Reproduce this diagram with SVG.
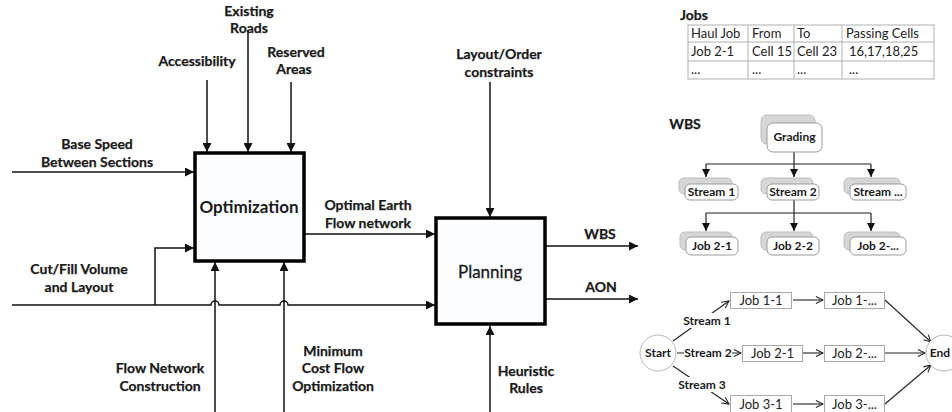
<svg xmlns="http://www.w3.org/2000/svg" width="952" height="412" viewBox="0 0 952 412">
  <style>
    .lbl { font-family: Lato, "Liberation Sans", sans-serif; font-weight: bold; font-size: 14px; fill: #1a1a1a; stroke: #1a1a1a; stroke-width: 0.25; text-anchor: middle; }
    .big { font-family: Lato, "Liberation Sans", sans-serif; font-size: 17px; fill: #1a1a1a; text-anchor: middle; }
    .reg { font-family: Lato, "Liberation Sans", sans-serif; font-size: 13px; fill: #222; }
    .sm  { font-family: Lato, "Liberation Sans", sans-serif; font-weight: bold; font-size: 12px; fill: #1a1a1a; text-anchor: middle; }
    .ln  { fill: none; stroke: #111; stroke-width: 1.5; }
    .box { fill: #fbfdff; stroke: #000; stroke-width: 3.5; }
    .tbl { fill: none; stroke: #b0b0b0; stroke-width: 1; }
    .back { fill: #d6d6d6; stroke: #bdbdbd; stroke-width: 1; }
    .front { fill: #fff; stroke: #9a9a9a; stroke-width: 1; }
    .wl { fill: none; stroke: #222; stroke-width: 1.2; }
    .job { fill: #fff; stroke: #a8a8a8; stroke-width: 1; }
    .al { fill: none; stroke: #222; stroke-width: 1.1; }
    .circ { fill: #fff; stroke: #b8b8b8; stroke-width: 1; }
  </style>
  <defs>
    <marker id="tri" viewBox="0 0 10 10" refX="10" refY="5" markerWidth="6" markerHeight="6" markerUnits="strokeWidth" orient="auto">
      <path d="M0,0 L10,5 L0,10 z" fill="#111"/>
    </marker>
    <marker id="tri-s" viewBox="0 0 10 10" refX="10" refY="5" markerWidth="7" markerHeight="7" markerUnits="strokeWidth" orient="auto">
      <path d="M0,0 L10,5 L0,10 z" fill="#111"/>
    </marker>
    <marker id="vee" viewBox="0 0 10 10" refX="9" refY="5" markerWidth="8" markerHeight="8" markerUnits="strokeWidth" orient="auto">
      <path d="M1,1 L9,5 L1,9" fill="none" stroke="#222" stroke-width="1.2"/>
    </marker>
  </defs>

  <!-- IDEF0 connectors -->
  <g id="connectors">
    <line class="ln" x1="207" y1="80" x2="207" y2="152" marker-end="url(#tri)"/>
    <line class="ln" x1="248" y1="30" x2="248" y2="152" marker-end="url(#tri)"/>
    <line class="ln" x1="291" y1="82" x2="291" y2="152" marker-end="url(#tri)"/>
    <line class="ln" x1="12" y1="172" x2="194" y2="172" marker-end="url(#tri)"/>
    <!-- cut/fill main line hops over the two mechanism arrows -->
    <path class="ln" d="M12,305 H211 A4,4 0 0 1 219,305 H280 A4,4 0 0 1 288,305 H435" marker-end="url(#tri)"/>
    <path class="ln" d="M155,305 V248 H194" marker-end="url(#tri)"/>
    <line class="ln" x1="215" y1="412" x2="215" y2="262" marker-end="url(#tri)"/>
    <line class="ln" x1="284" y1="412" x2="284" y2="262" marker-end="url(#tri)"/>
    <line class="ln" x1="305" y1="234" x2="435" y2="234" marker-end="url(#tri)"/>
    <line class="ln" x1="490" y1="82" x2="490" y2="217" marker-end="url(#tri)"/>
    <line class="ln" x1="490" y1="412" x2="490" y2="326" marker-end="url(#tri)"/>
    <line class="ln" x1="546" y1="246" x2="638" y2="246" marker-end="url(#tri)"/>
    <line class="ln" x1="546" y1="299" x2="638" y2="299" marker-end="url(#tri)"/>
  </g>

  <!-- input / control / mechanism labels -->
  <g id="labels">
    <text class="lbl" x="249" y="16">Existing</text>
    <text class="lbl" x="249" y="33">Roads</text>
    <text class="lbl" x="197" y="66">Accessibility</text>
    <text class="lbl" x="296" y="57">Reserved</text>
    <text class="lbl" x="294" y="74">Areas</text>
    <text class="lbl" x="97" y="149">Base Speed</text>
    <text class="lbl" x="97" y="167">Between Sections</text>
    <text class="lbl" x="79" y="274">Cut/Fill Volume</text>
    <text class="lbl" x="79" y="292">and Layout</text>
    <text class="lbl" x="160" y="373">Flow Network</text>
    <text class="lbl" x="160" y="391">Construction</text>
    <text class="lbl" x="333" y="356">Minimum</text>
    <text class="lbl" x="333" y="373">Cost Flow</text>
    <text class="lbl" x="333" y="391">Optimization</text>
    <text class="lbl" x="368" y="210">Optimal Earth</text>
    <text class="lbl" x="368" y="228">Flow network</text>
    <text class="lbl" x="499" y="59">Layout/Order</text>
    <text class="lbl" x="499" y="77">constraints</text>
    <text class="lbl" x="526" y="376">Heuristic</text>
    <text class="lbl" x="526" y="393">Rules</text>
    <text class="lbl" x="600" y="239">WBS</text>
    <text class="lbl" x="601" y="292">AON</text>
  </g>

  <g id="optimization">
    <rect class="box" x="195" y="153" width="109" height="108"/>
    <text class="big" x="249" y="213" font-weight="bold">Optimization</text>
  </g>

  <g id="planning">
    <rect class="box" x="436" y="218" width="109" height="106"/>
    <text class="big" x="490" y="278" stroke="#1a1a1a" stroke-width="0.3">Planning</text>
  </g>

  <!-- haul job table -->
  <g id="jobs-table">
    <text class="lbl" x="680" y="20" style="text-anchor:start">Jobs</text>
    <rect class="tbl" x="688" y="25" width="246" height="54"/>
    <line class="tbl" x1="688" y1="42" x2="934" y2="42"/>
    <line class="tbl" x1="688" y1="61" x2="934" y2="61"/>
    <line class="tbl" x1="748" y1="25" x2="748" y2="79"/>
    <line class="tbl" x1="794" y1="25" x2="794" y2="79"/>
    <line class="tbl" x1="842" y1="25" x2="842" y2="79"/>
    <text class="reg" x="691" y="38">Haul Job</text>
    <text class="reg" x="752" y="38">From</text>
    <text class="reg" x="797" y="38">To</text>
    <text class="reg" x="846" y="38">Passing Cells</text>
    <text class="reg" x="691" y="56">Job 2-1</text>
    <text class="reg" x="752" y="56">Cell 15</text>
    <text class="reg" x="797" y="56">Cell 23</text>
    <text class="reg" x="849" y="56">16,17,18,25</text>
    <text class="reg" x="691" y="74" fill="#888">...</text>
    <text class="reg" x="752" y="74" fill="#888">...</text>
    <text class="reg" x="797" y="74" fill="#888">...</text>
    <text class="reg" x="849" y="74" fill="#888">...</text>
  </g>

  <!-- work breakdown structure -->
  <g id="wbs">
    <text class="lbl" x="685" y="129">WBS</text>
    <g id="wbs-links">
      <path class="wl" d="M794,152 V164 M706,164 H871"/>
      <line class="wl" x1="706" y1="164" x2="706" y2="177" marker-end="url(#tri-s)"/>
      <line class="wl" x1="794" y1="164" x2="794" y2="177" marker-end="url(#tri-s)"/>
      <line class="wl" x1="871" y1="164" x2="871" y2="177" marker-end="url(#tri-s)"/>
      <path class="wl" d="M794,200 V213 M706,213 H871"/>
      <line class="wl" x1="706" y1="213" x2="706" y2="231" marker-end="url(#tri-s)"/>
      <line class="wl" x1="794" y1="213" x2="794" y2="231" marker-end="url(#tri-s)"/>
      <line class="wl" x1="871" y1="213" x2="871" y2="231" marker-end="url(#tri-s)"/>
    </g>
    <g id="grading">
      <rect class="back" x="761" y="115" width="54" height="29" rx="6"/>
      <rect class="front" x="767" y="123" width="55" height="29" rx="6"/>
      <text class="sm" x="794.5" y="141">Grading</text>
    </g>
    <g id="stream-1">
      <rect class="back" x="679" y="178" width="53" height="16" rx="5"/>
      <rect class="front" x="685" y="184" width="53" height="16" rx="5"/>
      <text class="sm" x="711.5" y="196">Stream 1</text>
    </g>
    <g id="stream-2">
      <rect class="back" x="761" y="178" width="52" height="16" rx="5"/>
      <rect class="front" x="767" y="184" width="52" height="16" rx="5"/>
      <text class="sm" x="793" y="196">Stream 2</text>
    </g>
    <g id="stream-n">
      <rect class="back" x="844" y="178" width="56" height="16" rx="5"/>
      <rect class="front" x="850" y="184" width="56" height="16" rx="5"/>
      <text class="sm" x="878" y="196">Stream ...</text>
    </g>
    <g id="job-2-1">
      <rect class="back" x="680" y="232" width="52" height="18" rx="5"/>
      <rect class="front" x="686" y="237" width="52" height="18" rx="5"/>
      <text class="sm" x="712" y="250">Job 2-1</text>
    </g>
    <g id="job-2-2">
      <rect class="back" x="761" y="232" width="52" height="18" rx="5"/>
      <rect class="front" x="767" y="237" width="52" height="18" rx="5"/>
      <text class="sm" x="793" y="250">Job 2-2</text>
    </g>
    <g id="job-2-n">
      <rect class="back" x="844" y="232" width="56" height="18" rx="5"/>
      <rect class="front" x="850" y="237" width="56" height="18" rx="5"/>
      <text class="sm" x="878" y="250">Job 2-...</text>
    </g>
  </g>

  <!-- activity-on-node network -->
  <g id="aon">
    <g id="aon-links">
      <line class="al" x1="673" y1="341" x2="729" y2="301" marker-end="url(#vee)"/>
      <line class="al" x1="677" y1="353" x2="741" y2="353" marker-end="url(#vee)"/>
      <line class="al" x1="673" y1="366" x2="729" y2="404" marker-end="url(#vee)"/>
      <line class="al" x1="793" y1="300" x2="823" y2="300" stroke="#555" stroke-width="1.6" marker-end="url(#vee)"/>
      <line class="al" x1="803" y1="353" x2="823" y2="353" marker-end="url(#vee)"/>
      <line class="al" x1="793" y1="404" x2="823" y2="404" stroke="#555" stroke-width="1.6" marker-end="url(#vee)"/>
      <line class="al" x1="885" y1="300" x2="931" y2="342" marker-end="url(#vee)"/>
      <line class="al" x1="885" y1="353" x2="925" y2="353" marker-end="url(#vee)"/>
      <line class="al" x1="885" y1="404" x2="931" y2="365" marker-end="url(#vee)"/>
      <rect x="690" y="313" width="38" height="15" fill="#fff"/>
      <text class="sm" x="707" y="325">Stream 1</text>
      <rect x="684" y="346" width="48" height="14" fill="#fff"/>
      <text class="sm" x="708" y="357">Stream 2</text>
      <rect x="683" y="377" width="40" height="15" fill="#fff"/>
      <text class="sm" x="702" y="389">Stream 3</text>
    </g>
    <g id="start">
      <circle class="circ" cx="658" cy="353" r="18"/>
      <text class="sm" x="658" y="357">Start</text>
    </g>
    <g id="end">
      <circle class="circ" cx="944" cy="353" r="18"/>
      <text class="sm" x="940" y="357">End</text>
    </g>
    <g id="job-1-1"><rect class="job" x="730.5" y="292.5" width="61" height="16"/><text class="reg" x="761" y="305" text-anchor="middle">Job 1-1</text></g>
    <g id="job-1-n"><rect class="job" x="824.5" y="292.5" width="60" height="16"/><text class="reg" x="854.5" y="305" text-anchor="middle">Job 1-...</text></g>
    <g id="job-2-1-aon"><rect class="job" x="742.5" y="345.5" width="60" height="16"/><text class="reg" x="772.5" y="358" text-anchor="middle">Job 2-1</text></g>
    <g id="job-2-n-aon"><rect class="job" x="824.5" y="345.5" width="60" height="16"/><text class="reg" x="854.5" y="358" text-anchor="middle">Job 2-...</text></g>
    <g id="job-3-1"><rect class="job" x="730.5" y="395.5" width="61" height="18"/><text class="reg" x="761" y="409" text-anchor="middle">Job 3-1</text></g>
    <g id="job-3-n"><rect class="job" x="824.5" y="395.5" width="60" height="18"/><text class="reg" x="854.5" y="409" text-anchor="middle">Job 3-...</text></g>
  </g>
</svg>
